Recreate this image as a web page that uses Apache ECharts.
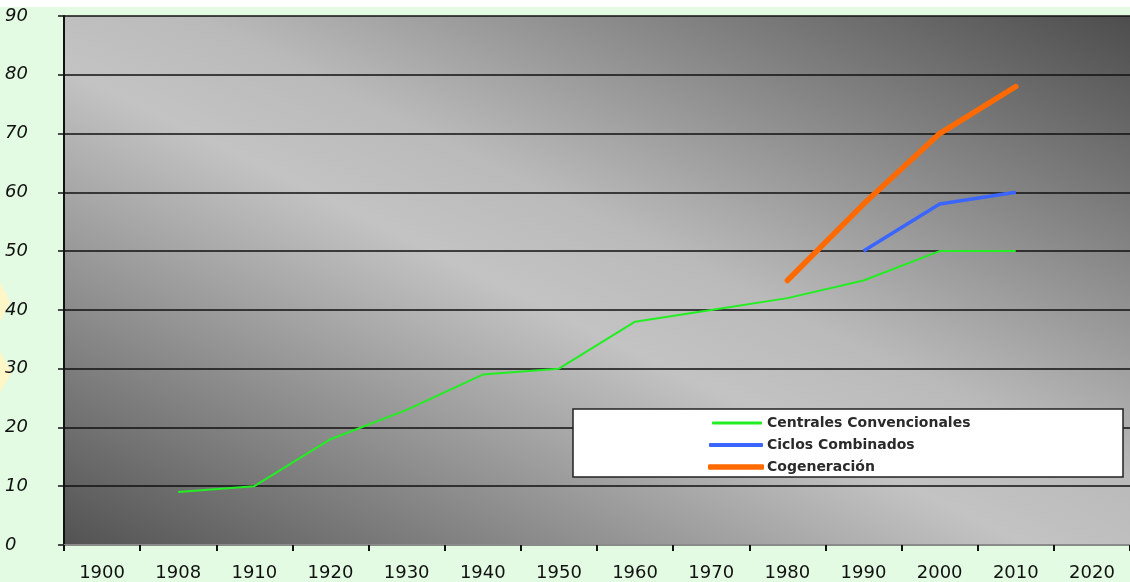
<!DOCTYPE html>
<html>
<head>
<meta charset="utf-8">
<script src="https://cdn.jsdelivr.net/npm/echarts@6/dist/echarts.min.js"></script>
<style>
html,body{margin:0;padding:0;background:#ffffff;}
#chart{width:1130px;height:582px;}
</style>
</head>
<body>
<div id="chart"></div>
<script>
const years = ['1900','1908','1910','1920','1930','1940','1950','1960','1970','1980','1990','2000','2010','2020'];
const yTicks = [0,10,20,30,40,50,60,70,80,90];
const centrales = [null,9,10,18,23,29,30,38,40,42,45,50,50,null];
const ciclos = [null,null,null,null,null,null,null,null,null,null,50,58,60,null];
const cogeneracion = [null,null,null,null,null,null,null,null,null,45,58,70,78,null];
const seriesNames = ['Centrales Convencionales','Ciclos Combinados','Cogeneración'];
const seriesColors = ['#22ee22','#3a66ff','#ff6a00'];

const chart = echarts.init(document.getElementById('chart'));
const legendText = {color: '#2a2a2a', fontFamily: 'DejaVu Sans, sans-serif', fontWeight: 'bold', fontSize: 14};
function makeLegend(i, left, top, h, w, pad) {
  return {
    orient: 'vertical', left: left, top: top, z: 60,
    itemWidth: w, itemHeight: h, icon: 'roundRect', itemGap: 0,
    textStyle: Object.assign({padding: [0,0,0,pad]}, legendText),
    data: [seriesNames[i]],
    selectedMode: false
  };
}
const option = {
  animation: false,
  backgroundColor: 'transparent',
  graphic: [
    {type:'rect', z:-10, shape:{x:0,y:7,width:1130,height:575}, style:{fill:'#e2fbe2'}},
    {type:'polygon', z:-9, shape:{points:[[0,282],[10,302],[0,322]]}, style:{fill:'#fff6c8'}},
    {type:'polygon', z:-9, shape:{points:[[0,352],[12,372],[0,392]]}, style:{fill:'#fff6c8'}},
    {type:'rect', z:50, shape:{x:573,y:409,width:550,height:68}, style:{fill:'#ffffff', stroke:'#222222', lineWidth:1.5}}
  ],
  grid: {
    left: 64, top: 16, width: 1074, height: 531,
    show: true,
    borderWidth: 0,
    backgroundColor: new echarts.graphic.LinearGradient(390, 708, 812, -145, [
      {offset: 0, color: '#525252'},
      {offset: 0.45, color: '#c3c3c3'},
      {offset: 0.56, color: '#bababa'},
      {offset: 1, color: '#4c4c4c'}
    ], true)
  },
  xAxis: {
    type: 'category',
    data: years,
    boundaryGap: true,
    axisLine: {show: true, lineStyle: {color: '#8a8a8a', width: 2}},
    axisTick: {show: true, alignWithLabel: false, length: 6, lineStyle: {color: '#111', width: 2}},
    axisLabel: {color: '#111', fontFamily: 'DejaVu Sans, sans-serif', fontSize: 18, margin: 19, interval: 0}
  },
  yAxis: {
    type: 'value',
    min: 0, max: 90, interval: 10,
    axisLine: {show: true, lineStyle: {color: '#111', width: 2}},
    axisTick: {show: true, length: 6, lineStyle: {color: '#111', width: 1.5}},
    axisLabel: {color: '#111', fontFamily: 'DejaVu Sans, sans-serif', fontStyle: 'italic', fontSize: 18, margin: 59, align: 'left',
      formatter: v => yTicks.includes(v) ? String(v) : ''},
    splitLine: {show: true, lineStyle: {color: '#111', width: 1.5}}
  },
  legend: [
    makeLegend(0, 707, 411, 3, 50, 0),
    makeLegend(1, 704, 433, 4, 54, -1),
    makeLegend(2, 703, 455, 5.5, 56, -2)
  ],
  series: [
    {name: seriesNames[0], type: 'line', data: centrales, showSymbol: false, symbol: 'none',
      lineStyle: {color: seriesColors[0], width: 2}, itemStyle: {color: seriesColors[0]}},
    {name: seriesNames[1], type: 'line', data: ciclos, showSymbol: false, symbol: 'none',
      lineStyle: {color: seriesColors[1], width: 3.5}, itemStyle: {color: seriesColors[1]}},
    {name: seriesNames[2], type: 'line', data: cogeneracion, showSymbol: false, symbol: 'none',
      lineStyle: {color: seriesColors[2], width: 5.5, cap: 'round'}, itemStyle: {color: seriesColors[2]}}
  ]
};
chart.setOption(option);
</script>
</body>
</html>
